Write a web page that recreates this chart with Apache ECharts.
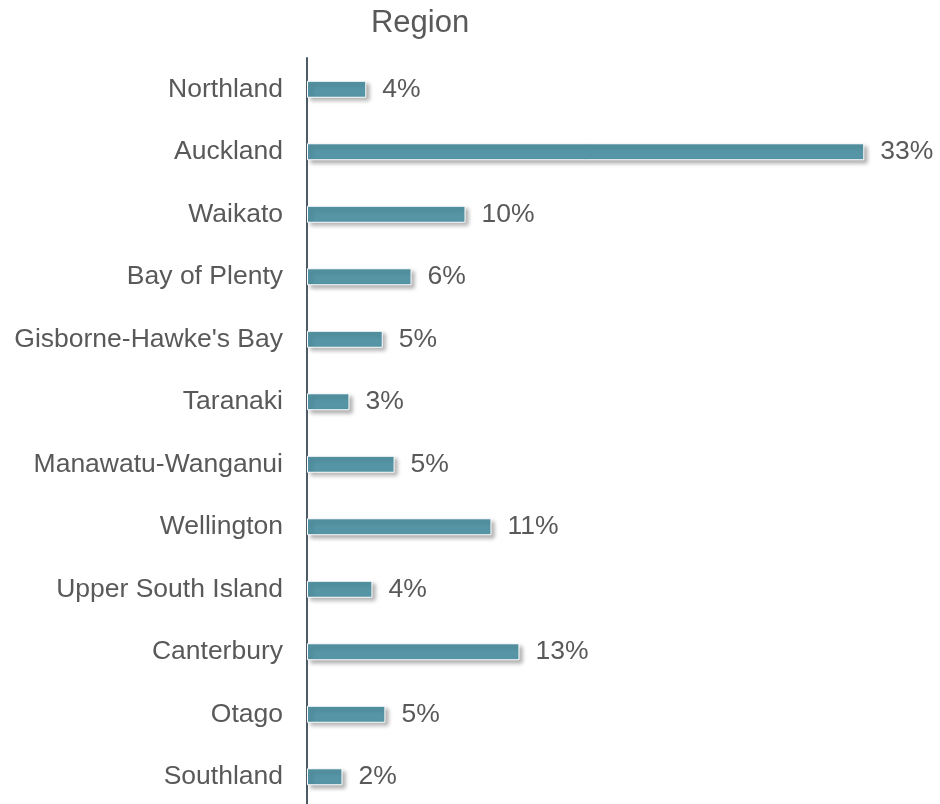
<!DOCTYPE html>
<html>
<head>
<meta charset="utf-8">
<script src="https://cdn.jsdelivr.net/npm/echarts@6/dist/echarts.min.js"></script>
<style>html,body{margin:0;padding:0;background:#fff}#c{width:940px;height:804px}</style>
</head>
<body>
<div id="c"></div>
<script>
var titleText = 'Region';
var regions = ['Northland','Auckland','Waikato','Bay of Plenty',"Gisborne-Hawke's Bay",'Taranaki','Manawatu-Wanganui','Wellington','Upper South Island','Canterbury','Otago','Southland'];
var shares = [3.56, 33.47, 9.52, 6.28, 4.55, 2.55, 5.26, 11.08, 3.93, 12.76, 4.71, 2.13];

var chart = echarts.init(document.getElementById('c'), null, {renderer:'canvas'});
chart.setOption({
  animation:false,
  title:{text:titleText,left:415,top:3,textAlign:'center',textStyle:{fontFamily:'Liberation Sans',fontSize:31,fontWeight:'normal',color:'#595959'}},
  grid:{left:307,top:58,width:582.75,height:750,containLabel:false,outerBoundsMode:'none'},
  xAxis:{type:'value',min:0,max:35,show:false},
  yAxis:{type:'category',data:regions,inverse:true,
    axisLine:{show:true,lineStyle:{color:'#4d5b66',width:2}},
    axisTick:{show:false},
    axisLabel:{margin:24,fontFamily:'Liberation Sans',fontSize:26.5,color:'#595959',padding:[4,0,0,0]}},
  series:[{type:'bar',data:shares,barWidth:17,
    itemStyle:{color:'#5595a6',borderColor:'#ffffff',borderWidth:1,shadowColor:'rgba(0,0,0,0.3)',shadowBlur:4,shadowOffsetX:3,shadowOffsetY:3},
    label:{show:true,position:'right',distance:16,fontFamily:'Liberation Sans',fontSize:26.5,color:'#595959',padding:[4,0,0,0],
      formatter:function(p){return Math.round(p.value)+'%';}}
  }]
});
</script>
</body>
</html>
